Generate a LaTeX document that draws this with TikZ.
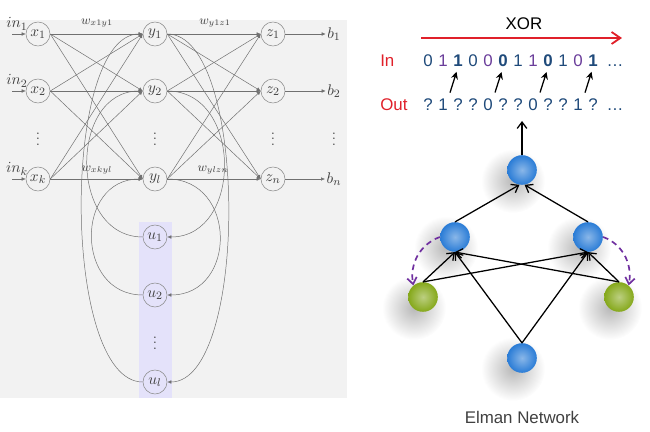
\documentclass[tikz,border=0pt]{standalone}
\usepackage{fontspec}
\setsansfont{Liberation Sans}
\usetikzlibrary{arrows.meta,calc,backgrounds}
\definecolor{panel}{HTML}{F2F2F2}
\definecolor{wiregray}{HTML}{707070}
\definecolor{ring}{HTML}{8C8C8C}
\definecolor{lilac}{HTML}{E4E2FA}
\definecolor{xorred}{HTML}{E0202A}
\definecolor{seqblue}{HTML}{1F4A7A}
\definecolor{seqpurple}{HTML}{6A3D9A}
\definecolor{ballblue}{HTML}{2A7CD6}
\definecolor{ballgreen}{HTML}{85A81A}
\definecolor{loopviolet}{HTML}{7030A0}

\begin{document}
\begin{tikzpicture}[
  x=0.025cm,y=0.025cm,
  font=\fontsize{11}{13}\selectfont,
  unit/.style={circle,draw=ring,minimum size=0.6cm,inner sep=0pt,text=black!75},
  tag/.style={text=black!75,inner sep=1pt},
  link/.style={draw=wiregray,line width=0.35pt,-{Latex[length=1mm,width=0.9mm]}},
  seq/.style={anchor=base,inner sep=0pt,text=seqblue,font=\sffamily\fontsize{12}{14}\selectfont},
  hop/.style={line width=0.9pt,shorten <=0.17cm,shorten >=0.12cm,-{Stealth[length=1.8mm,width=1.8mm]}},
  neuron/.style={circle,minimum size=0.74cm,inner sep=0pt,inner color=ballblue!55!white,outer color=ballblue},
  context/.style={neuron,inner color=ballgreen!55!white,outer color=ballgreen},
  flow/.style={line width=0.9pt,-{Straight Barb[length=1.6mm,width=2.4mm]}},
  recur/.style={draw=loopviolet,line width=1.2pt,dash pattern=on 4pt off 3pt,-{Straight Barb[length=1.6mm,width=2.4mm]}}
]
\useasboundingbox (0,0) rectangle (650,432);
% left: network with context units
\fill[panel] (0,34) rectangle (347,412);
\fill[lilac] (139,34) rectangle (172,210);
\foreach \s/\yy in {1/398,2/341,k/253}{
  \node[unit] (x\s) at (38,\yy) {$x_\s$};
  \coordinate (s\s) at (12,\yy);
  \draw[link] (s\s) -- (x\s);
  \node[tag] (inl\s) at (17,\yy+10) {$in_\s$};
}
\foreach \s/\yy in {1/398,2/341,l/253}
  \node[unit] (y\s) at (155,\yy) {$y_\s$};
\foreach \s/\yy in {1/398,2/341,n/253}{
  \node[unit] (z\s) at (273,\yy) {$z_\s$};
  \node[tag] (b\s) at (334,\yy) {$b_\s$};
  \draw[link] (z\s) -- (b\s);
}
\foreach \s/\yy in {1/195,2/137,l/50}
  \node[unit] (u\s) at (155,\yy) {$u_\s$};
\foreach \c/\xx in {xd/38,yd/155,zd/273,bd/334}
  \node[tag] (\c) at (\xx,297) {$\vdots$};
\node[tag] (ud) at (155,93) {$\vdots$};
\foreach \a in {1,2,k}
  \foreach \b in {1,2,l}
    \draw[link] (x\a.east) -- (y\b.west);
\foreach \a in {1,2,l}
  \foreach \b in {1,2,n}
    \draw[link] (y\a.east) -- (z\b.west);
\node[tag,font=\small] (w1) at (97,409) {$w_{x1y1}$};
\node[tag,font=\small] (w2) at (215,409) {$w_{y1z1}$};
\node[tag,font=\small] (w3) at (97,262) {$w_{xkyl}$};
\node[tag,font=\small] (w4) at (213,262) {$w_{ylzn}$};
% feedback loops
\draw[link] (ul.west) to[out=180,in=180,looseness=0.6] (y1.west);
\draw[link] (u1.west) to[out=180,in=180,looseness=1.3] (y2.west);
\draw[link] (u2.west) to[out=180,in=180,looseness=1.5] (yl.west);
\draw[link] (y1.east) to[out=0,in=0,looseness=0.6] (ul.east);
\draw[link] (y2.east) to[out=0,in=0,looseness=1.33] (u1.east);
\draw[link] (yl.east) to[out=0,in=0,looseness=1.55] (u2.east);

% right: XOR sequence
\node[font=\sffamily\fontsize{12}{14}\selectfont] (xor) at (524,408) {XOR};
\coordinate (xs) at (421,394);
\coordinate (xe) at (622,394);
\draw[xorred,line width=1.3pt,-{Straight Barb[length=2.2mm,width=3mm]}] (xs) -- (xe);
\node[seq,anchor=base west,text=xorred] (inlab) at (380,365) {In};
\node[seq,anchor=base west,text=xorred] (outlab) at (380,321) {Out};
\foreach \c/\col [count=\i] in {0/seqblue,1/seqpurple,\textbf{1}/seqblue,0/seqblue,0/seqpurple,\textbf{0}/seqblue,
    1/seqblue,1/seqpurple,\textbf{0}/seqblue,1/seqblue,0/seqpurple,\textbf{1}/seqblue}
  \node[seq,text=\col] (inb\i) at (413+15*\i,365) {\c};
\foreach \c [count=\i] in {?,1,?,?,0,?,?,0,?,?,1,?}
  \node[seq] (outb\i) at (413+15*\i,321) {\c};
\node[seq] (indots) at (615,365) {\dots};
\node[seq] (outdots) at (615,321) {\dots};
\foreach \k in {2,5,8,11}{
  \pgfmathtruncatemacro\nxt{\k+1}
  \draw[hop] (outb\k.north east) -- (inb\nxt.south);
}
% Elman network
\node[neuron] (o) at (522,262) {};
\node[neuron] (hl) at (455,195) {};
\node[neuron] (hr) at (588,195) {};
\node[context] (gl) at (423,135) {};
\node[context] (gr) at (619,135) {};
\node[neuron] (inp) at (522,74) {};
\begin{scope}[on background layer]
  \foreach \n in {o,hl,hr,gl,gr,inp}
    \shade[inner color=black!28,outer color=white] ($(\n)+(-9,-11)$) circle (32);
\end{scope}
\coordinate (oc) at (522,311);
\draw[flow] (o) -- (oc);
\draw[flow] (hl.north) -- (o.-100);
\draw[flow] (hr.north) -- (o.-80);
\foreach \s in {gl,inp,gr}
  \foreach \t in {hl,hr}
    \draw[flow] (\s.north) -- (\t.south);
\draw[recur] (hl.west) to[out=200,in=100] (gl.130);
\draw[recur] (hr.east) to[out=-20,in=80] (gr.50);
\node[font=\sffamily\fontsize{12}{14}\selectfont,text=black!75] (cap) at (522,15) {Elman Network};
\end{tikzpicture}
\end{document}
